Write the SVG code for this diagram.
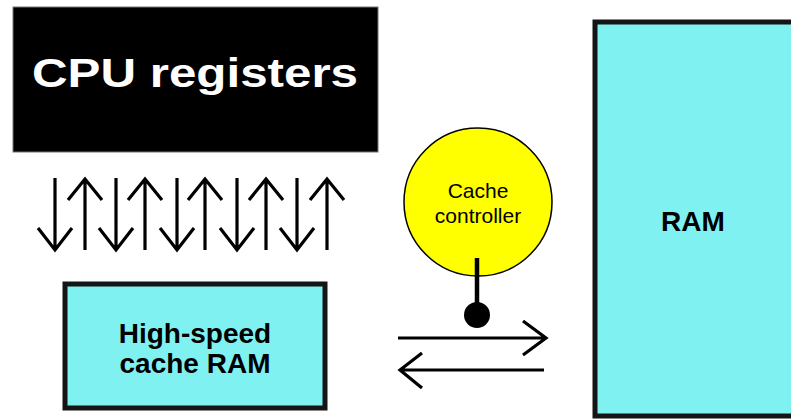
<svg xmlns="http://www.w3.org/2000/svg" width="791" height="419" viewBox="0 0 791 419">
<style>
.arr{stroke:#000;stroke-width:3.2;fill:none;stroke-linecap:butt;stroke-linejoin:miter}
.box{fill:#80f1f1;stroke:#151515;stroke-width:5}
.lbl{font-family:"Liberation Sans",Arial,sans-serif;font-weight:bold;fill:#000;text-anchor:middle}
.cc{font-family:"Liberation Sans",Arial,sans-serif;font-size:21px;fill:#000;text-anchor:middle}
</style>
<defs>
<path id="dn" d="M0,-72 V0 M-17,-22 L0,0 L17,-22"/>
<path id="up" d="M0,71 V0 M-17,21 L0,0 L17,21"/>
</defs>
<rect width="791" height="419" fill="#fff"/>
<g id="cpu">
<rect x="13" y="7" width="365" height="145" fill="#000" stroke="#777" stroke-width="1"/>
<text x="195" y="87" font-family="'Liberation Sans',Arial,sans-serif" font-weight="bold" font-size="41" fill="#fff" text-anchor="middle" textLength="326" lengthAdjust="spacingAndGlyphs">CPU registers</text>
</g>
<g id="cache">
<rect class="box" x="65" y="284" width="260" height="124"/>
<text class="lbl" x="195" y="343" font-size="28">High-speed</text>
<text class="lbl" x="195" y="373" font-size="28">cache RAM</text>
</g>
<g id="ram">
<rect class="box" x="595" y="22" width="210" height="394"/>
<text class="lbl" x="693" y="231" font-size="28">RAM</text>
</g>
<g id="controller">
<circle cx="478" cy="202" r="74" fill="#ffff00" stroke="#000" stroke-width="1.5"/>
<text class="cc" x="478" y="198">Cache</text>
<text class="cc" x="478" y="223">controller</text>
</g>
<g id="connectors">
<g class="arr">
<use href="#dn" x="55" y="250"/>
<use href="#up" x="85" y="179"/>
<use href="#dn" x="116" y="250"/>
<use href="#up" x="145" y="179"/>
<use href="#dn" x="177" y="250"/>
<use href="#up" x="205" y="179"/>
<use href="#dn" x="237" y="250"/>
<use href="#up" x="266" y="179"/>
<use href="#dn" x="297" y="250"/>
<use href="#up" x="327" y="179"/>
</g>
<path d="M477,258 V308" stroke="#000" stroke-width="4.5" fill="none"/>
<circle cx="477" cy="315" r="13" fill="#000"/>
<path class="arr" d="M398,338 H546 M523,321 L546,338 L523,355"/>
<path class="arr" d="M544,370 H400 M422,353 L400,370 L422,388"/>
</g>
</svg>
